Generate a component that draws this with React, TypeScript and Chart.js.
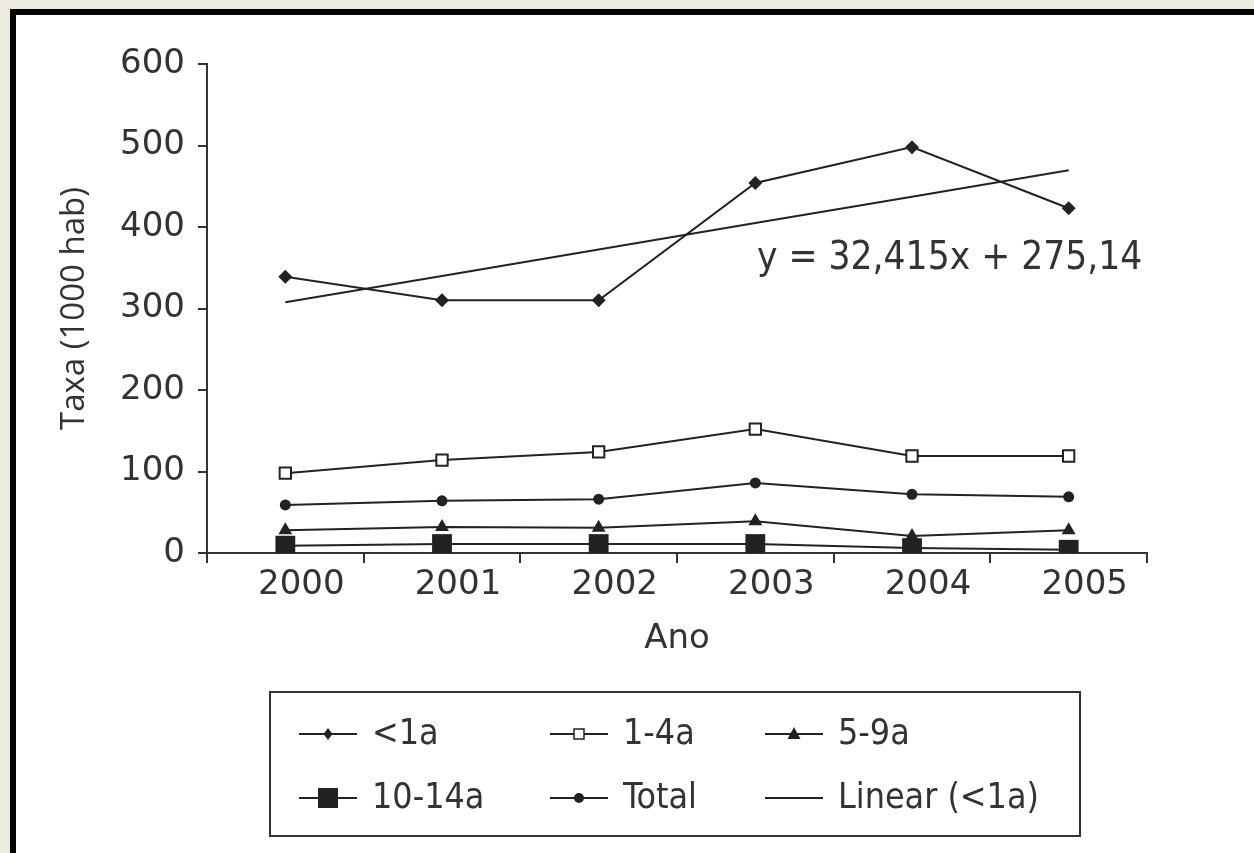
import React, { useEffect, useRef } from "react";
import { Chart, registerables } from "chart.js";

Chart.register(...registerables);

// ---- data ----
const years = ["2000", "2001", "2002", "2003", "2004", "2005"];
const lessThan1 = [339, 310, 310, 454, 498, 423];
const age1to4 = [98, 114, 124, 152, 119, 119];
const age5to9 = [28, 32, 31, 39, 21, 28];
const age10to14 = [9, 11, 11, 11, 6, 4];
const totalRate = [59, 64, 66, 86, 72, 69];
// trend line y = 32,415x + 275,14 evaluated at x = 1..6
const linearTrend = [307.6, 340.0, 372.4, 404.8, 437.2, 469.6];
const yTickMin = 0;
const yTickMax = 600;
const yTickStep = 100;
const equationText = "y = 32,415x + 275,14";
const seriesLabels = ["<1a", "1-4a", "5-9a", "10-14a", "Total", "Linear (<1a)"];

const INK = "#222";
const TEXT = "#333";
const TICK_FONT = "'DejaVu Sans', sans-serif";
const TITLE_FONT = "'Open Sans', 'DejaVu Sans', sans-serif";
const COND_FONT = "'DejaVu Sans Condensed', 'Liberation Sans Narrow', 'DejaVu Sans', sans-serif";

type MarkerKind = "diamond" | "openSquare" | "triangle" | "bigSquare" | "circle" | null;
const legendMarkers: MarkerKind[] = ["diamond", "openSquare", "triangle", "bigSquare", "circle", null];

function drawMarker(ctx: CanvasRenderingContext2D, kind: MarkerKind, x: number, y: number) {
  if (!kind) return;
  ctx.save();
  ctx.fillStyle = INK;
  ctx.strokeStyle = INK;
  ctx.lineWidth = 1.5;
  ctx.beginPath();
  if (kind === "diamond") {
    ctx.moveTo(x, y - 6);
    ctx.lineTo(x + 4.5, y);
    ctx.lineTo(x, y + 6);
    ctx.lineTo(x - 4.5, y);
    ctx.closePath();
    ctx.fill();
  } else if (kind === "openSquare") {
    ctx.fillStyle = "#fff";
    ctx.rect(x - 5, y - 5, 10, 10);
    ctx.fill();
    ctx.stroke();
  } else if (kind === "triangle") {
    ctx.moveTo(x, y - 7);
    ctx.lineTo(x + 6.5, y + 5);
    ctx.lineTo(x - 6.5, y + 5);
    ctx.closePath();
    ctx.fill();
  } else if (kind === "bigSquare") {
    ctx.rect(x - 10, y - 10, 20, 20);
    ctx.fill();
  } else if (kind === "circle") {
    ctx.arc(x, y, 5, 0, Math.PI * 2);
    ctx.fill();
  }
  ctx.restore();
}

const decorPlugin = {
  id: "decor",
  afterDraw(chart: any) {
    const ctx: CanvasRenderingContext2D = chart.ctx;
    ctx.save();
    // equation label
    ctx.fillStyle = TEXT;
    ctx.font = `38.5px ${COND_FONT}`;
    ctx.textAlign = "left";
    ctx.textBaseline = "middle";
    ctx.fillText(equationText, 757, 259);

    // legend box
    ctx.strokeStyle = "#333";
    ctx.lineWidth = 2;
    ctx.strokeRect(270, 692, 810, 144);
    const colLineX = [299, 550, 765];
    const colTextX = [372, 623, 838];
    const rowY = [734, 798];
    ctx.font = `35.5px ${COND_FONT}`;
    seriesLabels.forEach((label, i) => {
      const col = i % 3;
      const row = Math.floor(i / 3);
      const x0 = colLineX[col];
      const y = rowY[row];
      ctx.strokeStyle = INK;
      ctx.lineWidth = 2;
      ctx.beginPath();
      ctx.moveTo(x0, y);
      ctx.lineTo(x0 + 58, y);
      ctx.stroke();
      drawMarker(ctx, legendMarkers[i], x0 + 29, y);
      ctx.fillStyle = TEXT;
      ctx.fillText(label, colTextX[col], y + 1);
    });
    ctx.restore();
  },
};

export default function App() {
  const ref = useRef<HTMLCanvasElement | null>(null);

  useEffect(() => {
    if (!ref.current) return;
    const base = { borderColor: INK, borderWidth: 2, tension: 0, pointBorderColor: INK, pointBackgroundColor: INK };
    const chart = new Chart(ref.current, {
      type: "line",
      data: {
        labels: years,
        datasets: [
          { ...base, label: seriesLabels[0], data: lessThan1, pointStyle: "rectRot", pointRadius: 7, pointBorderWidth: 0 },
          { ...base, label: seriesLabels[1], data: age1to4, pointStyle: "rect", pointRadius: 8, pointBackgroundColor: "#fff", pointBorderWidth: 2 },
          { ...base, label: seriesLabels[2], data: age5to9, pointStyle: "triangle", pointRadius: 8, pointBorderWidth: 0 },
          { ...base, label: seriesLabels[3], data: age10to14, pointStyle: "rect", pointRadius: 14, pointBorderWidth: 0 },
          { ...base, label: seriesLabels[4], data: totalRate, pointStyle: "circle", pointRadius: 5.5, pointBorderWidth: 0 },
          { ...base, label: seriesLabels[5], data: linearTrend, pointRadius: 0 },
        ],
      },
      options: {
        animation: false,
        responsive: false,
        maintainAspectRatio: false,
        layout: { padding: { left: 10, top: 64, right: 107, bottom: 0 } },
        plugins: { legend: { display: false }, tooltip: { enabled: false } },
        scales: {
          x: {
            offset: true,
            grid: { offset: true, drawOnChartArea: false, drawTicks: true, tickLength: 10, color: "#333", lineWidth: 2 },
            border: { display: true, color: "#333", width: 2 },
            ticks: {
              color: TEXT,
              font: { family: TICK_FONT, size: 34 },
              padding: 2,
              labelOffset: 16,
              maxRotation: 0,
              autoSkip: false,
            },
            title: {
              display: true,
              text: "Ano",
              color: TEXT,
              font: { family: TICK_FONT, size: 34 },
              padding: { top: 0, bottom: 193 },
            },
            afterFit(scale: any) {
              scale.height = 300;
            },
          },
          y: {
            min: yTickMin,
            max: yTickMax,
            grid: { drawOnChartArea: false, drawTicks: true, tickLength: 9, color: "#333", lineWidth: 2 },
            border: { display: true, color: "#333", width: 2 },
            ticks: { stepSize: yTickStep, color: TEXT, font: { family: TICK_FONT, size: 34 }, padding: 13 },
            title: {
              display: true,
              text: "Taxa (1000 hab)",
              color: TEXT,
              font: { family: TITLE_FONT, size: 33 },
              padding: { top: 45, bottom: 0 },
            },
            afterFit(scale: any) {
              scale.width = 197;
            },
          },
        },
      },
      plugins: [decorPlugin],
    } as any);
    return () => chart.destroy();
  }, []);

  return (
    <div style={{ position: "fixed", left: 0, top: 0, width: 1254, height: 853, background: "#edeae0", overflow: "hidden" }}>
      <div
        style={{
          position: "absolute",
          left: 10,
          top: 9,
          width: 1300,
          height: 900,
          background: "#fff",
          borderLeft: "6px solid #050505",
          borderTop: "6px solid #050505",
        }}
      />
      <canvas ref={ref} width={1254} height={853} style={{ position: "absolute", left: 0, top: 0, width: 1254, height: 853 }} />
    </div>
  );
}
